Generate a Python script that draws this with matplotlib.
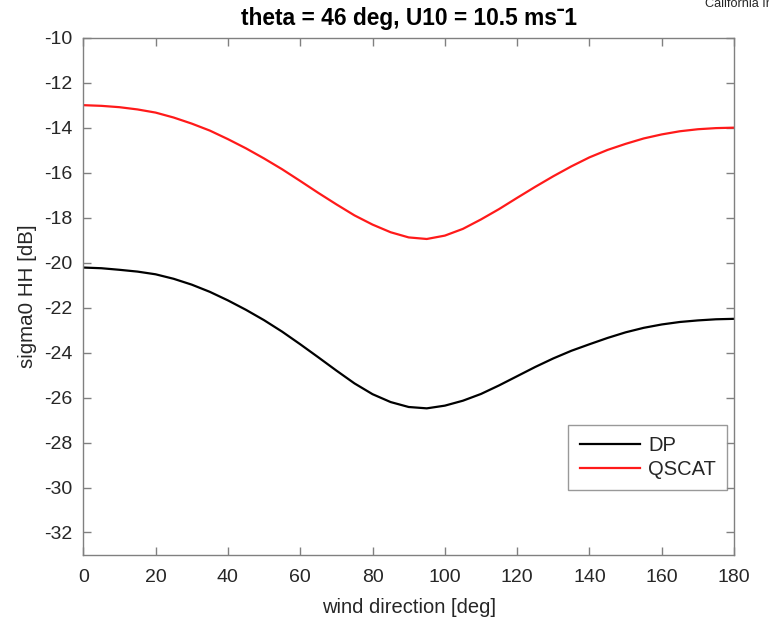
import matplotlib
matplotlib.use('Agg')
import matplotlib.pyplot as plt

plt.rcParams['font.family'] = ['Liberation Sans', 'DejaVu Sans']
plt.rcParams['axes.unicode_minus'] = False

# wind direction [deg]
wind_dir = list(range(0, 181, 5))

# sigma0 HH [dB]
dp = [-20.22, -20.25, -20.32, -20.40, -20.52, -20.72, -20.98, -21.30, -21.68, -22.10,
      -22.56, -23.07, -23.63, -24.21, -24.80, -25.37, -25.85, -26.20, -26.42, -26.48,
      -26.36, -26.14, -25.84, -25.46, -25.05, -24.64, -24.26, -23.92, -23.63, -23.35,
      -23.10, -22.90, -22.75, -22.64, -22.57, -22.52, -22.50]
qscat = [-13.00, -13.03, -13.09, -13.19, -13.33, -13.55, -13.82, -14.13, -14.51, -14.92,
         -15.37, -15.85, -16.37, -16.90, -17.41, -17.90, -18.31, -18.65, -18.88, -18.95,
         -18.80, -18.50, -18.08, -17.62, -17.12, -16.63, -16.16, -15.72, -15.32, -14.99,
         -14.72, -14.48, -14.30, -14.16, -14.07, -14.02, -14.00]

xticks = list(range(0, 181, 20))
yticks = list(range(-32, -9, 2))

grey = '#808080'
txt = '#262626'

fig = plt.figure(figsize=(7.69, 6.21), dpi=100)
ax = fig.add_axes([0.1083, 0.1063, 0.8463, 0.833])

ax.plot(wind_dir, dp, color='black', lw=1.6, label='DP')
ax.plot(wind_dir, qscat, color='#ff1a1a', lw=1.6, label='QSCAT')

ax.set_xlim(0, 180)
ax.set_ylim(-33, -10)
ax.set_xticks(xticks)
ax.set_yticks(yticks)

for s in ax.spines.values():
    s.set_color(grey)
    s.set_linewidth(1.0)
ax.tick_params(direction='in', top=True, right=True, length=6, width=1.0,
               color=grey, labelcolor=txt, labelsize=14)
ax.tick_params(axis='x', pad=10)
ax.tick_params(axis='y', pad=8)

ax.set_xlabel('wind direction [deg]', fontsize=14.5, color=txt, labelpad=9)
ax.set_ylabel('sigma0 HH [dB]', fontsize=14.8, color=txt, labelpad=5)
ax.set_title('theta = 46 deg, U10 = 10.5 ms\u02c91', fontsize=16.4, fontweight='bold',
             color='black', pad=9)

leg = ax.legend(loc='lower right', bbox_to_anchor=(0.989, 0.1257), frameon=True,
                fancybox=False, handlelength=3.0, borderpad=0.55, labelspacing=0.25,
                handletextpad=0.4, borderaxespad=0, prop={'size': 14.5})
leg.get_frame().set_edgecolor(grey)
leg.get_frame().set_linewidth(1.0)
for t in leg.get_texts():
    t.set_color(txt)

fig.text(705 / 769, 1 - 7 / 621, 'California Institute of Technology', fontsize=9.2,
         color=txt, ha='left', va='baseline')

fig.savefig('out.png', dpi=100)
